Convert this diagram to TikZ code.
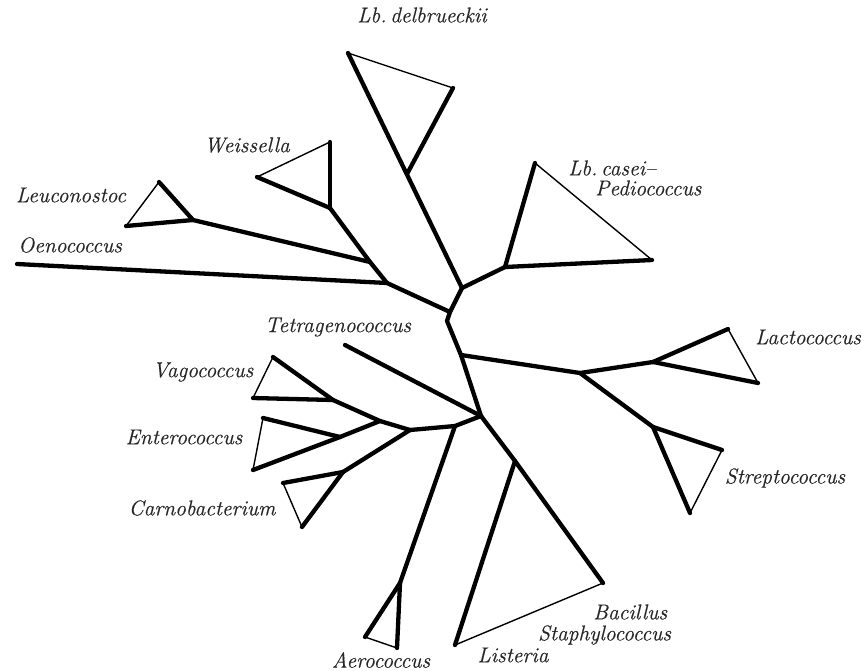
\documentclass[tikz,border=0pt]{standalone}
\usepackage{fontspec}
\newfontfamily\labfont{Latin Modern Roman}[FakeBold=0.4,Ligatures=TeX]
\begin{document}
\begin{tikzpicture}[x=1pt,y=-1pt,
  br/.style={line width=4.3pt,line cap=round,line join=round},
  tn/.style={line width=1.4pt,line cap=round},
  lab/.style={inner sep=0pt,text=black!85,font=\labfont\fontsize{21.5}{25}\selectfont\itshape}]
\useasboundingbox (0,0) rectangle (867,670);
% coordinates
\coordinate (A) at (462,288);
\coordinate (B) at (450,312);
\coordinate (Bk) at (447,321);
\coordinate (C) at (461,355);
\coordinate (D) at (481,416);
\coordinate (E) at (515,461);
\coordinate (F) at (603,583);
\coordinate (Li) at (455,645);
% delbrueckii
\coordinate (dA) at (348,53);
\coordinate (dR) at (453,88);
\coordinate (dN) at (407,174);
% casei
\coordinate (cN) at (505,267);
\coordinate (cT) at (535,163);
\coordinate (cR) at (652,260);
% oeno group
\coordinate (O1) at (387,283);
\coordinate (Oe) at (17,264);
\coordinate (O2) at (370,262);
\coordinate (W) at (330,208);
\coordinate (wT) at (330,142);
\coordinate (wL) at (257,177);
\coordinate (LN) at (193,220);
\coordinate (LT) at (159,182);
\coordinate (LL) at (126,226);
% lacto strep
\coordinate (LS) at (580,373);
\coordinate (lN) at (653,362);
\coordinate (lT) at (728,329);
\coordinate (lR) at (758,383);
\coordinate (sN) at (653,427);
\coordinate (sR) at (722,450);
\coordinate (sB) at (690,513);
% left cluster
\coordinate (Te) at (345,345);
\coordinate (AJ) at (455,426);
\coordinate (Cn) at (410,430);
\coordinate (aN) at (400,583);
\coordinate (aL) at (365,637);
\coordinate (aB) at (397,648);
\coordinate (VE) at (380,421);
\coordinate (vN) at (333,400);
\coordinate (vT) at (273,357);
\coordinate (vL) at (253,398);
\coordinate (eN) at (340,437);
\coordinate (eT) at (263,418);
\coordinate (eB) at (253,470);
\coordinate (cbN) at (343,472);
\coordinate (cbT) at (283,483);
\coordinate (cbB) at (302,527);
% thick branches
\draw[br] (dA) -- (A) -- (B) -- (Bk) -- (C) -- (D) -- (E) -- (F);
\draw[br] (dN) -- (dR);
\draw[br] (A) -- (cN); \draw[br] (cN) -- (cT); \draw[br] (cN) -- (cR);
\draw[br] (B) -- (O1) -- (Oe);
\draw[br] (O1) -- (O2) -- (W);
\draw[br] (W) -- (wT); \draw[br] (W) -- (wL);
\draw[br] (O2) -- (LN); \draw[br] (LN) -- (LT); \draw[br] (LN) -- (LL);
\draw[br] (C) -- (LS) -- (lN); \draw[br] (lN) -- (lT); \draw[br] (lN) -- (lR);
\draw[br] (LS) -- (sN); \draw[br] (sN) -- (sR); \draw[br] (sN) -- (sB);
\draw[br] (D) -- (Te);
\draw[br] (D) -- (AJ) -- (Cn);
\draw[br] (AJ) -- (aN); \draw[br] (aN) -- (aL); \draw[br] (aN) -- (aB);
\draw[br] (Cn) -- (VE) -- (vN); \draw[br] (vN) -- (vT); \draw[br] (vN) -- (vL);
\draw[br] (VE) -- (eN); \draw[br] (eN) -- (eT); \draw[br] (eN) -- (eB);
\draw[br] (Cn) -- (cbN); \draw[br] (cbN) -- (cbT); \draw[br] (cbN) -- (cbB);
\draw[br] (E) -- (Li);
% thin triangle edges
\draw[tn] (dA) -- (dR);
\draw[tn] (cT) -- (cR);
\draw[tn] (wT) -- (wL);
\draw[tn] (LT) -- (LL);
\draw[tn] (lT) -- (lR);
\draw[tn] (sR) -- (sB);
\draw[tn] (aL) -- (aB);
\draw[tn] (vT) -- (vL);
\draw[tn] (eT) -- (eB);
\draw[tn] (cbT) -- (cbB);
\draw[tn] (Li) -- (F);
% labels
\node[lab] (tDel) at (422,15) {Lb.\,delbrueckii};
\node[lab] (tWei) at (247,145) {Weissella};
\node[lab] (tLeu) at (71,195) {Leuconostoc};
\node[lab] (tOen) at (70,245) {Oenococcus};
\node[lab,anchor=west] (tCas) at (568,168) {Lb.\,casei–};
\node[lab,anchor=west] (tPed) at (595,188) {Pediococcus};
\node[lab] (tTet) at (338,327) {Tetragenococcus};
\node[lab] (tVag) at (203,372) {Vagococcus};
\node[lab] (tEnt) at (184,437) {Enterococcus};
\node[lab] (tCar) at (202,508) {Carnobacterium};
\node[lab] (tLac) at (808,337) {Lactococcus};
\node[lab] (tStr) at (785,478) {Streptococcus};
\node[lab,anchor=west] (tBac) at (593,612) {Bacillus};
\node[lab,anchor=west] (tSta) at (538,635) {Staphylococcus};
\node[lab] (tLis) at (513,655) {Listeria};
\node[lab] (tAer) at (381,660) {Aerococcus};
\end{tikzpicture}
\end{document}
